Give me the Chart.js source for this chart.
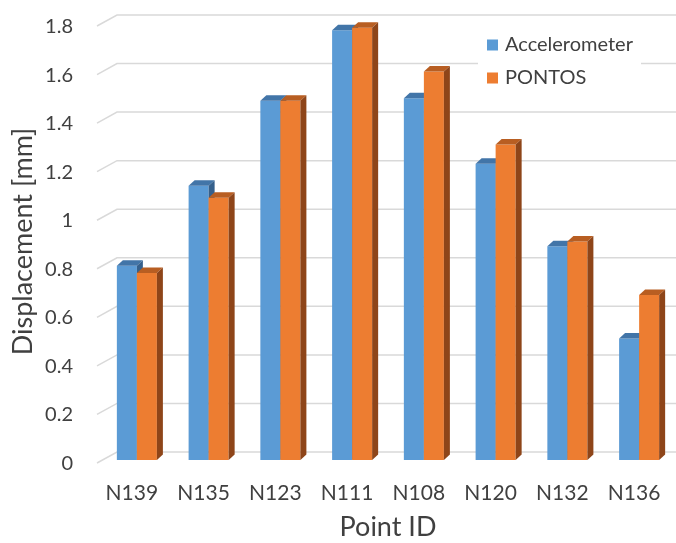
<!DOCTYPE html>
<html>
<head>
<meta charset="utf-8">
<script src="https://cdn.jsdelivr.net/npm/chart.js@4/dist/chart.umd.min.js"></script>
<style>
  html, body { margin: 0; padding: 0; background: #ffffff; }
  #wrap { width: 676px; height: 543px; }
</style>
</head>
<body>
<div id="wrap"><canvas id="chart" width="676" height="543"></canvas></div>
<script>
// Measured displacement per survey point
const pointIds = ['N139', 'N135', 'N123', 'N111', 'N108', 'N120', 'N132', 'N136'];
const accelerometer = [0.80, 1.13, 1.48, 1.77, 1.49, 1.22, 0.88, 0.50];
const pontos = [0.77, 1.08, 1.48, 1.78, 1.60, 1.30, 0.90, 0.68];
const yTicks = [0, 0.2, 0.4, 0.6, 0.8, 1, 1.2, 1.4, 1.6, 1.8];

const FONT = 'Lato, "Open Sans", sans-serif';
const TEXT = '#404040';

// Depth of a column (extrusion toward the back-right)
const DEPTH_X = 6, DEPTH_Y = -5.5;

// Shaded faces for each series: front, top, side
const faces = [
  { front: '#5B9BD5', top: '#4275A8', side: '#35608C' },
  { front: '#ED7D31', top: '#B85E22', side: '#8E4519' }
];

function poly(ctx, pts, fill) {
  ctx.beginPath();
  ctx.moveTo(pts[0][0], pts[0][1]);
  for (let i = 1; i < pts.length; i++) ctx.lineTo(pts[i][0], pts[i][1]);
  ctx.closePath();
  ctx.fillStyle = fill;
  ctx.fill();
}

// Back wall and floor-edge gridlines of the 3-D plot box
const wallGrid = {
  id: 'wallGrid',
  beforeDatasetsDraw(chart) {
    const { ctx, chartArea, scales } = chart;
    const y = scales.y;
    ctx.save();
    ctx.strokeStyle = '#D9D9D9';
    ctx.lineWidth = 1.5;
    yTicks.forEach(v => {
      const py = y.getPixelForValue(v);
      ctx.beginPath();
      ctx.moveTo(chartArea.left - 4, py + 3);
      ctx.lineTo(chartArea.left + 16, py - 8);
      ctx.lineTo(chart.width, py - 8);
      ctx.stroke();
    });
    ctx.restore();
  }
};

// Extruded columns drawn from the bar elements' own geometry
const columns3d = {
  id: 'columns3d',
  afterDatasetsDraw(chart) {
    const ctx = chart.ctx;
    const metas = chart.data.datasets.map((d, i) => chart.getDatasetMeta(i));
    ctx.save();
    for (let i = 0; i < pointIds.length; i++) {
      metas.forEach((meta, di) => {
        const el = meta.data[i];
        const p = el.getProps(['x', 'y', 'base', 'width'], true);
        const l = p.x - p.width / 2, r = p.x + p.width / 2;
        const top = p.y, bot = p.base;
        const f = faces[di];
        poly(ctx, [[l, top], [r, top], [r, bot], [l, bot]], f.front);
        poly(ctx, [[l, top], [l + DEPTH_X, top + DEPTH_Y], [r + DEPTH_X, top + DEPTH_Y], [r, top]], f.top);
        poly(ctx, [[r, top], [r + DEPTH_X, top + DEPTH_Y], [r + DEPTH_X, bot + DEPTH_Y], [r, bot]], f.side);
      });
    }
    ctx.restore();
  }
};

// Legend box on a white panel inside the plot
const boxLegend = {
  id: 'boxLegend',
  afterDraw(chart) {
    const ctx = chart.ctx;
    ctx.save();
    ctx.fillStyle = '#ffffff';
    ctx.fillRect(478, 30, 163, 63);
    ctx.font = '20px ' + FONT;
    ctx.textBaseline = 'middle';
    ctx.textAlign = 'left';
    chart.data.datasets.forEach((ds, i) => {
      const cy = 45 + i * 33;
      ctx.fillStyle = faces[i].front;
      ctx.fillRect(487, cy - 5.5, 11, 11);
      ctx.fillStyle = TEXT;
      ctx.fillText(ds.label, 505, cy);
    });
    ctx.restore();
  }
};

new Chart(document.getElementById('chart'), {
  type: 'bar',
  data: {
    labels: pointIds,
    datasets: [
      { label: 'Accelerometer', data: accelerometer, backgroundColor: 'rgba(0,0,0,0)' },
      { label: 'PONTOS', data: pontos, backgroundColor: 'rgba(0,0,0,0)' }
    ]
  },
  options: {
    responsive: false,
    animation: false,
    events: [],
    layout: { padding: { top: 23, right: 1, bottom: 0, left: 0 } },
    categoryPercentage: 0.558,
    barPercentage: 1.0,
    plugins: { legend: { display: false }, tooltip: { enabled: false } },
    scales: {
      x: {
        grid: { display: false, drawTicks: false },
        border: { display: false },
        ticks: { color: TEXT, font: { family: FONT, size: 21 }, padding: 21, labelOffset: -5 },
        title: { display: true, text: 'Point ID', color: TEXT, font: { family: FONT, size: 27 }, padding: { top: 4, bottom: 0 } },
        afterFit(s) { s.height = 83; s.paddingLeft = 0; s.paddingRight = 0; }
      },
      y: {
        min: 0, max: 1.8,
        grid: { display: false, drawTicks: false },
        border: { display: false },
        afterBuildTicks(s) { s.ticks = yTicks.map(v => ({ value: v })); },
        ticks: { color: TEXT, font: { family: FONT, size: 20 }, padding: 28, labelOffset: 3.5, callback: v => String(v) },
        title: { display: true, text: 'Displacement [mm]', color: TEXT, font: { family: FONT, size: 27 }, padding: { top: 7, bottom: 4 } },
        afterFit(s) { s.width = 101; s.paddingTop = 0; s.paddingBottom = 0; }
      }
    }
  },
  plugins: [wallGrid, columns3d, boxLegend]
});
</script>
</body>
</html>
